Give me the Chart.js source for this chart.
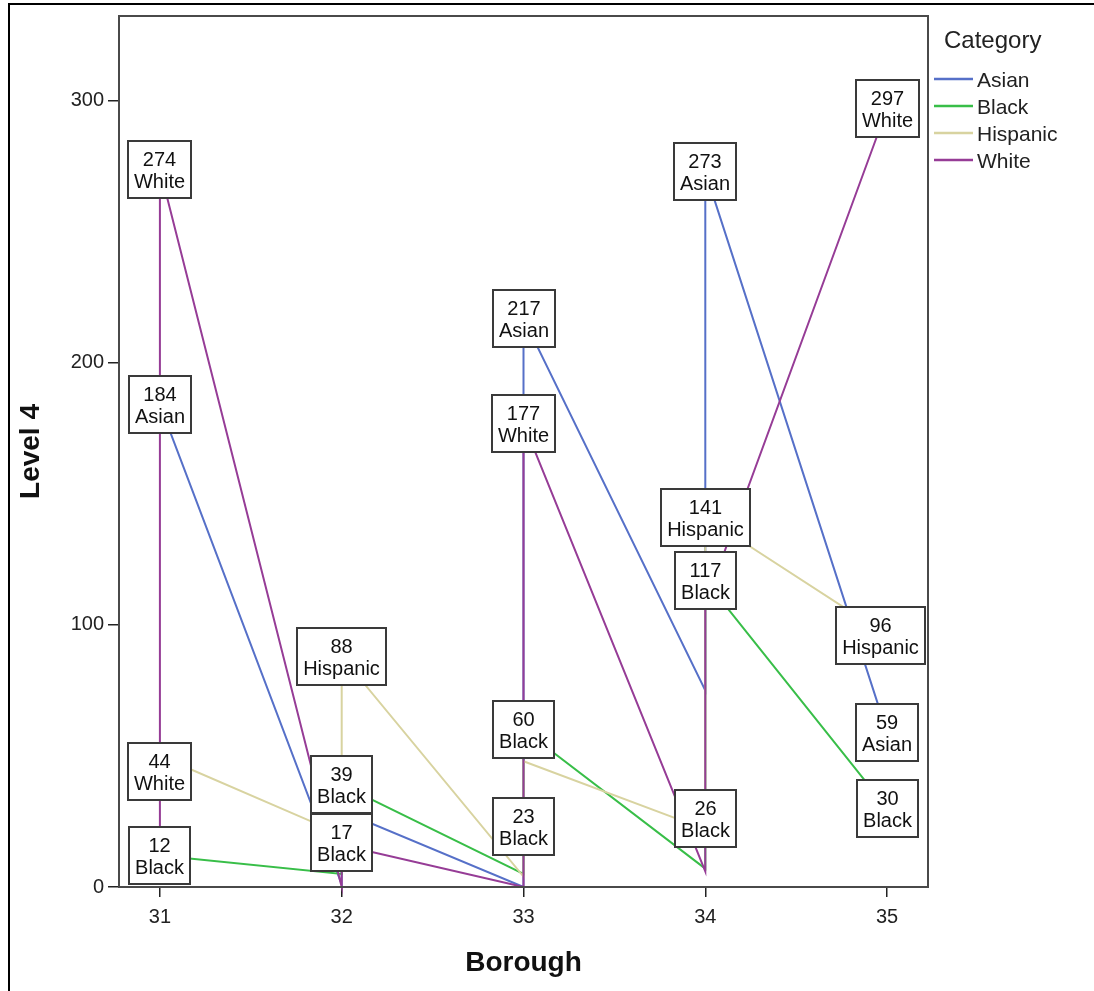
<!DOCTYPE html>
<html>
<head>
<meta charset="utf-8">
<script src="https://cdn.jsdelivr.net/npm/chart.js@4.4.1/dist/chart.umd.min.js"></script>
<style>
  html, body { margin: 0; padding: 0; background: #fff; }
  #wrap { position: relative; width: 1094px; height: 991px; overflow: hidden; }
  #frame { position: absolute; left: 8px; top: 3px; width: 1200px; height: 1100px;
           border: 2px solid #000; box-sizing: border-box; pointer-events: none; }
</style>
</head>
<body>
<div id="wrap">
  <canvas id="chart" width="1094" height="991"></canvas>
  <div id="frame"></div>
</div>
<script>
var boroughs = [31, 32, 33, 34, 35];
var yTicks = [0, 100, 200, 300];
var categories = ['Asian', 'Black', 'Hispanic', 'White'];
var colours = ['rgb(86, 112, 200)', 'rgb(56, 190, 72)', 'rgb(216, 211, 160)', 'rgb(150, 60, 150)'];

// line vertices, in the order they are joined
var asianX = [31, 32, 32, 33, 33, 34, 34, 35];
var asianY = [184, 1, 29, 0, 217, 75, 273, 59];
var blackX = [31, 32, 32, 32, 33, 33, 33, 34, 34, 34, 35];
var blackY = [12, 5, 17, 39, 5, 23, 60, 7, 26, 117, 30];
var hispanicX = [31, 32, 32, 33, 33, 34, 34, 35];
var hispanicY = [50, 20, 88, 4, 48, 22, 141, 96];
var whiteX = [31, 31, 31, 32, 32, 33, 33, 34, 34, 35];
var whiteY = [15, 44, 274, 0, 16, 0, 177, 6, 108, 297];

// boxed point labels
var labelX = [31, 31, 31, 31, 32, 32, 32, 33, 33, 33, 33, 34, 34, 34, 34, 35, 35, 35, 35];
var labelY = [274, 184, 44, 12, 88, 39, 17, 217, 177, 60, 23, 273, 141, 117, 26, 297, 96, 59, 30];
var labelCat = ['White', 'Asian', 'White', 'Black', 'Hispanic', 'Black', 'Black', 'Asian', 'White', 'Black', 'Black',
                'Asian', 'Hispanic', 'Black', 'Black', 'White', 'Hispanic', 'Asian', 'Black'];

var FONT = "'Liberation Sans', Arial, sans-serif";

function pts(xs, ys) {
  return xs.map(function(x, i) { return {x: x, y: ys[i]}; });
}

var seriesX = [asianX, blackX, hispanicX, whiteX];
var seriesY = [asianY, blackY, hispanicY, whiteY];
var datasets = categories.map(function(c, i) {
  return {
    label: c,
    data: pts(seriesX[i], seriesY[i]),
    showLine: true,
    borderColor: colours[i],
    backgroundColor: colours[i],
    borderWidth: 2,
    pointRadius: 0,
    tension: 0,
    clip: false,
    order: 4 - i
  };
});

var spssExtras = {
  id: 'spssExtras',
  afterDatasetsDraw: function(chart) {
    var ctx = chart.ctx;
    var xs = chart.scales.x, ys = chart.scales.y;
    var area = chart.chartArea;
    ctx.save();
    ctx.font = '20px ' + FONT;
    for (var i = 0; i < labelY.length; i++) {
      var cx = xs.getPixelForValue(labelX[i]);
      var cy = ys.getPixelForValue(labelY[i]);
      var t1 = String(labelY[i]), t2 = labelCat[i];
      var w = Math.round(Math.max(ctx.measureText(t1).width, ctx.measureText(t2).width) + 12);
      var h = 57;
      var left = Math.round(cx - w / 2);
      if (left + w > area.right - 3) left = Math.round(area.right - 3 - w);
      var top = Math.round(cy - h / 2);
      ctx.fillStyle = '#fff';
      ctx.fillRect(left, top, w, h);
      ctx.strokeStyle = '#3a3a3a';
      ctx.lineWidth = 2;
      ctx.strokeRect(left, top, w, h);
      ctx.fillStyle = '#111';
      ctx.textAlign = 'center';
      ctx.textBaseline = 'alphabetic';
      var mx = left + w / 2;
      ctx.fillText(t1, mx, top + 25);
      ctx.fillText(t2, mx, top + 47);
    }
    ctx.restore();
  },
  afterDraw: function(chart) {
    var ctx = chart.ctx;
    var area = chart.chartArea;
    ctx.save();
    // plot frame
    ctx.strokeStyle = '#4a4a4a';
    ctx.lineWidth = 2;
    ctx.strokeRect(area.left, area.top, area.right - area.left, area.bottom - area.top);
    // legend
    ctx.fillStyle = '#222';
    ctx.textAlign = 'left';
    ctx.textBaseline = 'middle';
    ctx.font = '24px ' + FONT;
    ctx.fillText('Category', 944, 41);
    ctx.font = '21px ' + FONT;
    categories.forEach(function(c, i) {
      var y = 79 + i * 27;
      ctx.strokeStyle = colours[i];
      ctx.lineWidth = 2.5;
      ctx.beginPath();
      ctx.moveTo(934, y);
      ctx.lineTo(973, y);
      ctx.stroke();
      ctx.fillStyle = '#222';
      ctx.fillText(c, 977, y + 2);
    });
    ctx.restore();
  }
};

new Chart(document.getElementById('chart'), {
  type: 'scatter',
  data: { datasets: datasets },
  options: {
    responsive: false,
    animation: false,
    layout: { padding: { left: 0, top: 14, right: 166, bottom: 0 } },
    plugins: {
      legend: { display: false },
      tooltip: { enabled: false }
    },
    scales: {
      x: {
        type: 'linear',
        min: 30.775,
        max: 35.225,
        afterBuildTicks: function(s) { s.ticks = boroughs.map(function(v) { return {value: v}; }); },
        afterFit: function(s) { s.height = 104; },
        border: { display: false },
        grid: { display: true, drawOnChartArea: false, drawTicks: true, tickLength: 10, color: '#222', lineWidth: 1.5 },
        ticks: { color: '#222', font: { family: FONT, size: 20 }, padding: 8, maxRotation: 0 },
        title: { display: true, text: 'Borough', color: '#111',
                 font: { family: FONT, size: 28, weight: 'bold' }, padding: { top: 0, bottom: 11 } }
      },
      y: {
        type: 'linear',
        min: 0,
        max: 332.4,
        afterBuildTicks: function(s) { s.ticks = yTicks.map(function(v) { return {value: v}; }); },
        afterFit: function(s) { s.width = 119; },
        border: { display: false },
        grid: { display: true, drawOnChartArea: false, drawTicks: true, tickLength: 11, color: '#222', lineWidth: 1.5 },
        ticks: { color: '#222', font: { family: FONT, size: 20 }, padding: 4 },
        title: { display: true, text: 'Level 4', color: '#111',
                 font: { family: FONT, size: 28, weight: 'bold' }, padding: { top: 14, bottom: 0 } }
      }
    }
  },
  plugins: [spssExtras]
});
</script>
</body>
</html>
